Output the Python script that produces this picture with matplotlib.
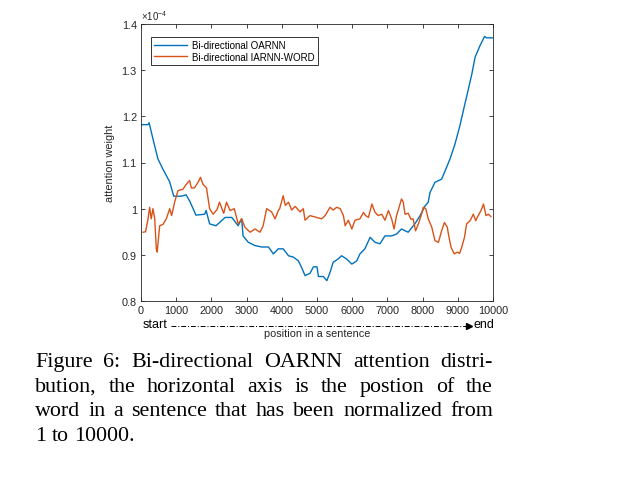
import matplotlib
matplotlib.use("Agg")
import matplotlib.pyplot as plt
from matplotlib.lines import Line2D

# ---- data (attention weight, units of 1e-4) ----
blue_x = [0, 200, 230, 340, 480, 620, 815, 930, 1140, 1280,
          1380, 1480, 1560, 1810, 1850, 1950, 2130, 2390, 2580, 2760,
          2860, 2900, 3050, 3240, 3430, 3620, 3760, 3900, 4040, 4190,
          4330, 4470, 4560, 4660, 4800, 4900, 5000, 5040, 5180, 5280,
          5370, 5460, 5600, 5700, 5840, 5990, 6130, 6220, 6360, 6510,
          6650, 6790, 6930, 7120, 7260, 7400, 7590, 7780, 7930, 8070,
          8160, 8210, 8350, 8540, 8640, 8780, 8920, 9060, 9190, 9300,
          9400, 9490, 9630, 9760, 9820, 10000]
blue_y = [1.182, 1.182, 1.186, 1.151, 1.108, 1.086, 1.058, 1.027, 1.027, 1.030,
          1.017, 1.0, 0.986, 0.988, 0.996, 0.967, 0.963, 0.981, 0.981, 0.963,
          0.978, 0.941, 0.927, 0.920, 0.917, 0.917, 0.902, 0.913, 0.913, 0.898,
          0.895, 0.887, 0.873, 0.855, 0.860, 0.874, 0.874, 0.853, 0.853, 0.844,
          0.862, 0.884, 0.891, 0.898, 0.891, 0.880, 0.887, 0.902, 0.913, 0.938,
          0.927, 0.924, 0.941, 0.941, 0.945, 0.956, 0.949, 0.967, 0.985, 1.006,
          1.014, 1.035, 1.057, 1.064, 1.082, 1.108, 1.140, 1.180, 1.223, 1.259,
          1.292, 1.328, 1.353, 1.373, 1.370, 1.370]

orange_x = [60, 130, 200, 245, 290, 340, 390, 435, 460, 530,
            625, 720, 815, 870, 955, 1050, 1190, 1290, 1380, 1430,
            1520, 1620, 1690, 1760, 1860, 1950, 2050, 2160, 2230, 2350,
            2430, 2530, 2650, 2760, 2860, 2950, 3100, 3240, 3380, 3470,
            3570, 3710, 3810, 3900, 3940, 4040, 4100, 4190, 4280, 4380,
            4520, 4610, 4660, 4800, 4990, 5130, 5230, 5370, 5460, 5560,
            5660, 5750, 5800, 5890, 5990, 6080, 6220, 6320, 6380, 6460,
            6560, 6650, 6740, 6840, 6930, 7030, 7120, 7190, 7260, 7340,
            7400, 7450, 7500, 7590, 7670, 7730, 7800, 7880, 7970, 8020,
            8090, 8160, 8260, 8350, 8450, 8540, 8620, 8700, 8750, 8810,
            8900, 8990, 9050, 9110, 9190, 9250, 9350, 9440, 9510, 9580,
            9660, 9730, 9800, 9870, 9940]
orange_y = [0.949, 0.950, 0.978, 1.003, 0.978, 1.0, 0.978, 0.913, 0.906, 0.963,
            0.966, 0.978, 1.0, 0.985, 1.014, 1.039, 1.042, 1.053, 1.061, 1.045,
            1.045, 1.057, 1.068, 1.053, 1.045, 1.0, 0.988, 0.998, 1.014, 0.99,
            1.014, 0.996, 1.0, 0.967, 0.978, 0.96, 0.949, 0.956, 0.949, 0.963,
            1.0, 0.993, 0.978, 0.996, 1.0, 1.028, 1.007, 1.014, 0.997, 1.005,
            0.993, 1.0, 0.975, 0.985, 0.981, 0.978, 0.985, 1.003, 0.997, 1.003,
            1.0, 0.985, 0.963, 0.975, 0.956, 0.975, 0.978, 0.992, 0.985, 0.981,
            1.01, 0.992, 0.985, 0.988, 0.975, 0.996, 0.978, 0.956, 0.985, 1.005,
            1.021, 1.014, 0.988, 0.99, 0.977, 0.978, 0.952, 0.967, 0.988, 1.003,
            1.0, 0.978, 0.96, 0.931, 0.927, 0.952, 0.970, 0.96, 0.938, 0.916,
            0.902, 0.906, 0.903, 0.916, 0.938, 0.967, 0.974, 0.988, 0.974, 0.985,
            0.996, 1.01, 0.985, 0.988, 0.983]

series_names = ["Bi-directional OARNN", "Bi-directional IARNN-WORD"]
x_ticks = [0, 1000, 2000, 3000, 4000, 5000, 6000, 7000, 8000, 9000, 10000]
y_ticks = [0.8, 0.9, 1.0, 1.1, 1.2, 1.3, 1.4]
y_ticklabels = ["0.8", "0.9", "1", "1.1", "1.2", "1.3", "1.4"]

caption_lines = [
    "Figure 6: Bi-directional OARNN attention distri-",
    "bution, the horizontal axis is the postion of the",
    "word in a sentence that has been normalized from",
    "1 to 10000.",
]

plt.rcParams["font.family"] = ["Liberation Sans", "DejaVu Sans"]
plt.rcParams["mathtext.fontset"] = "custom"
plt.rcParams["mathtext.rm"] = "Liberation Sans"

W, H = 618, 489
fig = plt.figure(figsize=(W / 100, H / 100), dpi=100)
fig.patch.set_facecolor("white")

ax = fig.add_axes([141 / W, 1 - 302 / H, 352 / W, 277 / H])
ax.plot(blue_x, blue_y, color="#0072BD", lw=1.0, label=series_names[0])
ax.plot(orange_x, orange_y, color="#D95319", lw=1.0, label=series_names[1])
ax.set_xlim(0, 10000)
ax.set_ylim(0.8, 1.4)
ax.set_xticks(x_ticks)
ax.set_xticklabels([str(t) for t in x_ticks])
ax.set_yticks(y_ticks)
ax.set_yticklabels(y_ticklabels)
ax.tick_params(direction="in", length=3, width=0.6, labelsize=7.8,
               colors="#262626", top=True, right=True, pad=3)
for s in ax.spines.values():
    s.set_color("#262626")
    s.set_linewidth(0.6)

ax.set_ylabel("attention weight", fontsize=7.8, color="#262626", labelpad=5)
ax.text(0.0, 1.006, r"$\times10^{-4}$", transform=ax.transAxes, fontsize=7,
        color="#262626", ha="left", va="bottom")

leg = ax.legend(loc="upper left", bbox_to_anchor=(0.028, 0.953), borderaxespad=0,
                fontsize=7, frameon=True, fancybox=False, handlelength=3.4,
                handletextpad=0.5, borderpad=0.35, labelspacing=0.15)
leg.get_frame().set_edgecolor("black")
leg.get_frame().set_linewidth(0.7)

# axis annotation below
fig.text(155 / W, 1 - 325 / H, "start", fontsize=9, ha="center", va="center")
fig.text(484 / W, 1 - 325 / H, "end", fontsize=9, ha="center", va="center")
fig.text(317 / W, 1 - 334 / H, "position in a sentence", fontsize=7.8, ha="center",
         va="center", color="#262626")
yl = 1 - 327 / H
fig.add_artist(Line2D([171 / W, 466 / W], [yl, yl], transform=fig.transFigure,
                      color="black", lw=0.7, dashes=(5, 2, 1, 2)))
fig.add_artist(Line2D([469 / W], [yl], transform=fig.transFigure, marker=">",
                      markersize=4, color="black", lw=0))

# justified caption
CAP_FS = 15.8
renderer = fig.canvas.get_renderer()
x0, x1 = 35, 493
baselines = [367, 392, 416.5, 441]
for i, (line, by) in enumerate(zip(caption_lines, baselines)):
    words = line.split(" ")
    texts = [fig.text(0, 1 - by / H, w, fontsize=CAP_FS, family="Liberation Serif",
                      va="baseline", ha="left") for w in words]
    widths = [t.get_window_extent(renderer).width for t in texts]
    if i < len(caption_lines) - 1:
        gap = ((x1 - x0) - sum(widths)) / (len(words) - 1)
    else:
        sp = fig.text(0, 0, "a a", fontsize=CAP_FS, family="Liberation Serif")
        sp2 = fig.text(0, 0, "aa", fontsize=CAP_FS, family="Liberation Serif")
        gap = sp.get_window_extent(renderer).width - sp2.get_window_extent(renderer).width
        sp.remove(); sp2.remove()
    x = x0
    for t, w in zip(texts, widths):
        t.set_x(x / W)
        x += w + gap

fig.savefig("out.png", dpi=100)
